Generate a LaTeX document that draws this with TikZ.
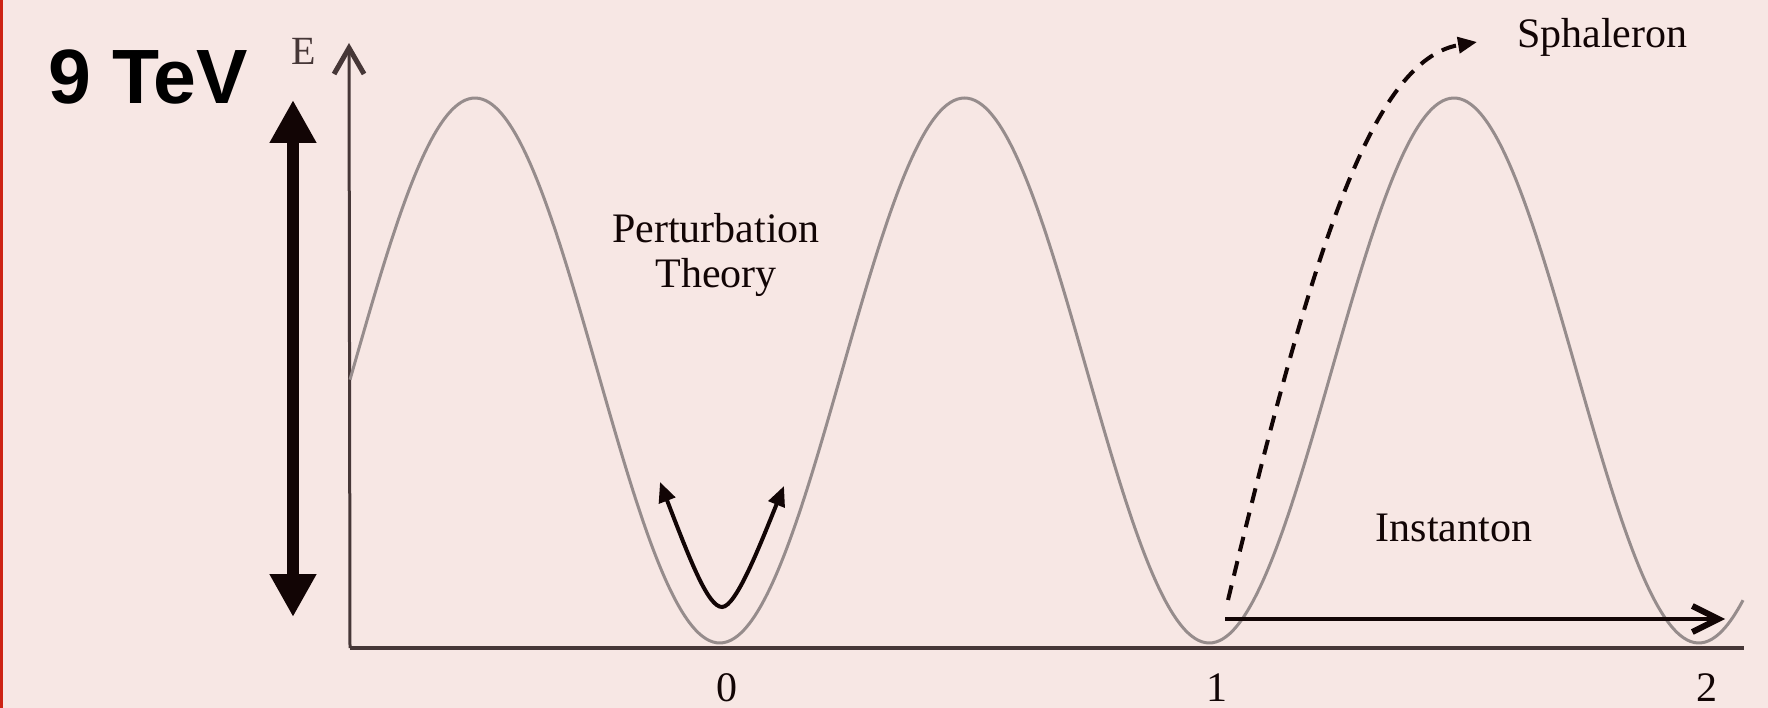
\documentclass[tikz,border=0pt]{standalone}
\usepackage{fontspec}
\setmainfont{Liberation Serif}
\newfontfamily\boldsans{Liberation Sans}
\usetikzlibrary{arrows.meta}
\definecolor{bgpink}{RGB}{247,231,228}
\definecolor{rededge}{RGB}{205,35,20}
\definecolor{curvegray}{RGB}{150,140,140}
\definecolor{axisdark}{RGB}{70,55,55}
\definecolor{ink}{RGB}{18,5,5}
\begin{document}
\begin{tikzpicture}[x=1pt,y=-1pt,
  lbl/.style={font=\fontsize{42}{45}\selectfont, text=ink, inner sep=0pt},
  axisline/.style={draw=axisdark},
  potential/.style={draw=curvegray, line width=3pt},
  bigarrow/.style={draw=ink, line width=12pt, {Triangle[length=43pt,width=44pt]}-{Triangle[length=43pt,width=44pt]}},
  pertarrow/.style={draw=ink, line width=4pt, line cap=round, {Triangle[length=20pt,width=17pt]}-{Triangle[length=20pt,width=17pt]}},
  sphalarrow/.style={draw=ink, line width=4pt, dash pattern=on 15pt off 10pt, -{Triangle[length=19pt,width=16pt]}},
  instarrow/.style={draw=ink, line width=3.5pt, -{Straight Barb[length=26pt,width=26pt,line width=6pt]}}
]
\useasboundingbox (0,0) rectangle (1768,708);
\fill[bgpink] (0,0) rectangle (1768,708);
\fill[rededge] (0,0) rectangle (2.5,708);

% axes
\coordinate (O) at (350,648);
\coordinate (Etip) at (349,43);
\coordinate (Xend) at (1744,648);
\draw[axisline, line width=3pt, -{Straight Barb[length=26pt,width=30pt,line width=5pt]}] (O) -- (Etip);
\draw[axisline, line width=4pt] (O) -- (Xend);

% potential
\draw[potential] plot[domain=350:1743, samples=400, smooth] (\x, {370.5 - 272.5*cos(0.735444*(\x-475))});

% labels
\node[lbl, text=axisdark, font=\fontsize{40}{40}\selectfont, anchor=base] (E) at (304,65) {E};
\node[lbl, anchor=base] (t0) at (727,701) {0};
\node[lbl, anchor=base] (t1) at (1217,701) {1};
\node[lbl, anchor=base] (t2) at (1707,701) {2};
\node[lbl, align=center, anchor=center] (pert) at (716,255) {Perturbation\\Theory};
\node[lbl, anchor=base west] (sph) at (1517,48) {Sphaleron};
\node[lbl, anchor=base] (inst) at (1454,541) {Instanton};
\node[font=\boldsans\bfseries\fontsize{77}{77}\selectfont, text=black, inner sep=0pt] (tev) at (148,77) {9 TeV};

% big double arrow
\coordinate (bigtop) at (293,100);
\coordinate (bigbot) at (293,617);
\draw[bigarrow] (bigtop) -- (bigbot);

% perturbation arrow
\coordinate (pl) at (660,482);
\coordinate (pb) at (722,607);
\coordinate (pr) at (784,486);
\draw[pertarrow] (pl) .. controls (690,560) and (708,607) .. (pb) .. controls (736,607) and (760,545) .. (pr);

% sphaleron arrow
\coordinate (ss) at (1228,600);
\coordinate (se) at (1477,42);
\draw[sphalarrow] (ss) .. controls (1310,260) and (1370,60) .. (se);

% instanton arrow
\coordinate (is) at (1225,619);
\coordinate (ie) at (1725,619);
\draw[instarrow] (is) -- (ie);
\end{tikzpicture}
\end{document}
